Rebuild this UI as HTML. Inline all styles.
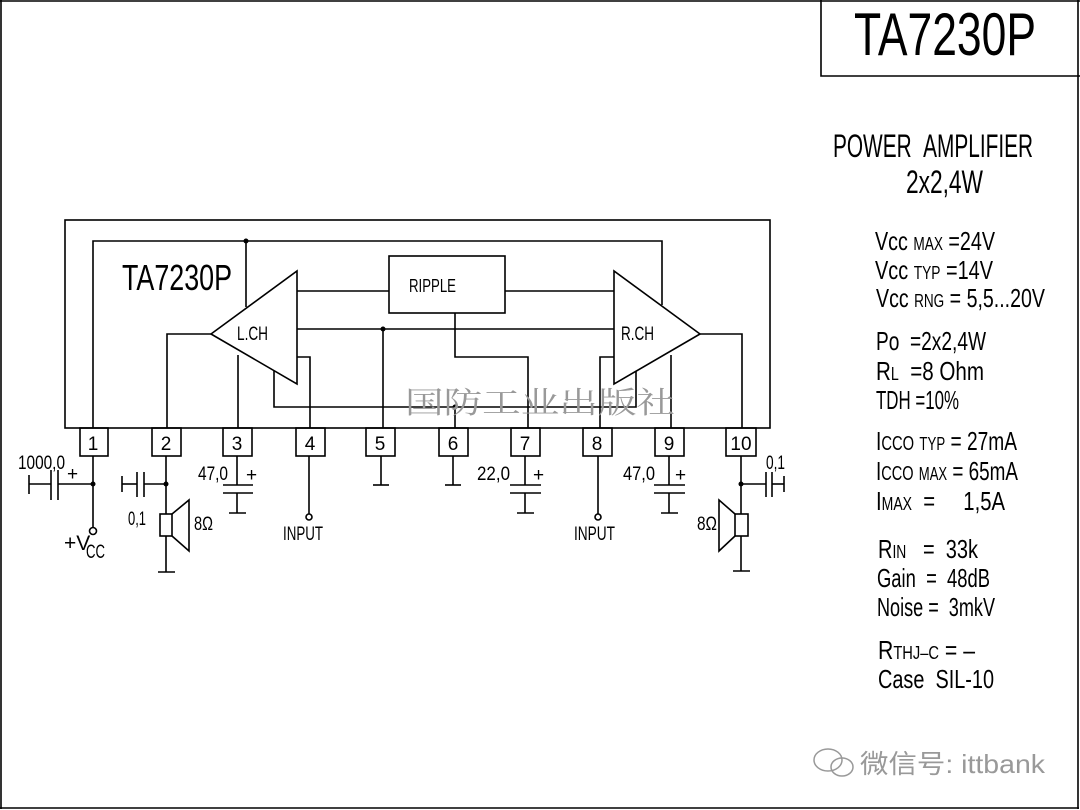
<!DOCTYPE html>
<html><head><meta charset="utf-8"><style>
html,body{margin:0;padding:0;background:#fff}
svg{display:block}
text{font-family:"Liberation Sans","Noto Sans CJK SC",sans-serif;fill:#000}
</style></head><body>
<svg width="1080" height="810" viewBox="0 0 1080 810" xmlns="http://www.w3.org/2000/svg">
<g fill="none" stroke="#000" stroke-width="1.6">
<line x1="1" y1="0" x2="1" y2="809"/>
<line x1="0" y1="808" x2="1079" y2="808"/>
<line x1="1078" y1="0" x2="1078" y2="809"/>
<line x1="0" y1="1" x2="1080" y2="1"/>
<polyline points="821,0 821,76 1080,76"/>
<rect x="65" y="220" width="705" height="208"/>
<polyline points="93,428 93,241 662,241 662,305"/>
<line x1="246" y1="241" x2="246" y2="307"/>
<polygon points="211,334 297,271 297,384"/>
<polygon points="700,334 614,271 614,384"/>
<rect x="389" y="256" width="116" height="57"/>
<line x1="297" y1="291" x2="389" y2="291"/>
<line x1="505" y1="291" x2="614" y2="291"/>
<line x1="297" y1="329" x2="614" y2="329"/>
<line x1="383" y1="329" x2="383" y2="428"/>
<polyline points="211,334 167,334 167,428"/>
<polyline points="700,334 742,334 742,428"/>
<line x1="238" y1="355" x2="238" y2="428"/>
<polyline points="297,357 310,357 310,428"/>
<polyline points="274,371 274,407 636,407 636,371"/>
<line x1="455" y1="407" x2="455" y2="428"/>
<polyline points="455,313 455,357 528,357 528,428"/>
<polyline points="614,357 600,357 600,428"/>
<line x1="671" y1="355" x2="671" y2="428"/>
<rect x="80" y="428" width="28" height="28"/>
<rect x="152" y="428" width="29" height="28"/>
<rect x="223" y="428" width="29" height="28"/>
<rect x="296" y="428" width="29" height="28"/>
<rect x="366" y="428" width="29" height="28"/>
<rect x="439" y="428" width="29" height="28"/>
<rect x="511" y="428" width="29" height="28"/>
<rect x="583" y="428" width="29" height="28"/>
<rect x="655" y="428" width="29" height="28"/>
<rect x="726" y="428" width="30" height="28"/>
<line x1="93" y1="456" x2="93" y2="527"/>
<circle cx="93" cy="531" r="3.5"/>
<line x1="93" y1="484" x2="58" y2="484"/>
<line x1="58" y1="470" x2="58" y2="500"/>
<line x1="51" y1="470" x2="51" y2="500"/>
<line x1="51" y1="484" x2="29" y2="484"/>
<line x1="29" y1="475" x2="29" y2="494"/>
<line x1="166" y1="456" x2="166" y2="572"/>
<line x1="158" y1="572" x2="175" y2="572"/>
<line x1="166" y1="484" x2="144" y2="484"/>
<line x1="144" y1="472" x2="144" y2="497"/>
<line x1="137" y1="472" x2="137" y2="497"/>
<line x1="137" y1="484" x2="122" y2="484"/>
<line x1="122" y1="476" x2="122" y2="492"/>
<rect x="160" y="514" width="12" height="22" fill="#fff"/>
<polyline points="172,514 189,500 189,551 172,536"/>
<line x1="237" y1="456" x2="237" y2="485"/>
<line x1="223" y1="485" x2="253" y2="485"/>
<line x1="223" y1="493" x2="253" y2="493"/>
<line x1="237" y1="493" x2="237" y2="513"/>
<line x1="229" y1="513" x2="246" y2="513"/>
<line x1="309" y1="456" x2="309" y2="514"/>
<circle cx="309" cy="517" r="3"/>
<line x1="381" y1="456" x2="381" y2="485"/>
<line x1="373" y1="485" x2="389" y2="485"/>
<line x1="453" y1="456" x2="453" y2="485"/>
<line x1="445" y1="485" x2="461" y2="485"/>
<line x1="525" y1="456" x2="525" y2="485"/>
<line x1="510" y1="485" x2="541" y2="485"/>
<line x1="510" y1="493" x2="541" y2="493"/>
<line x1="525" y1="493" x2="525" y2="513"/>
<line x1="517" y1="513" x2="534" y2="513"/>
<line x1="598" y1="456" x2="598" y2="514"/>
<circle cx="598" cy="517" r="3"/>
<line x1="669" y1="456" x2="669" y2="485"/>
<line x1="654" y1="485" x2="685" y2="485"/>
<line x1="654" y1="493" x2="685" y2="493"/>
<line x1="669" y1="493" x2="669" y2="513"/>
<line x1="661" y1="513" x2="678" y2="513"/>
<line x1="741" y1="456" x2="741" y2="571"/>
<line x1="733" y1="571" x2="750" y2="571"/>
<line x1="741" y1="484" x2="766" y2="484"/>
<line x1="766" y1="472" x2="766" y2="497"/>
<line x1="772" y1="472" x2="772" y2="497"/>
<line x1="772" y1="484" x2="784" y2="484"/>
<line x1="784" y1="476" x2="784" y2="492"/>
<rect x="735" y="514" width="13" height="22" fill="#fff"/>
<polyline points="735,514 719,500 719,551 735,536"/>
</g>
<g fill="#000">
<circle cx="246" cy="241" r="2.5"/><circle cx="383" cy="329" r="2.5"/><circle cx="455" cy="407" r="2.5"/>
<circle cx="93" cy="484" r="2.5"/><circle cx="166" cy="484" r="2.5"/><circle cx="741" cy="484" r="2.5"/>
</g>
<text x="405" y="413" font-size="30" textLength="270" lengthAdjust="spacingAndGlyphs" style="font-family:'Noto Serif CJK SC',serif;fill:#999">国防工业出版社</text>
<text x="122" y="290" font-size="36" textLength="110" lengthAdjust="spacingAndGlyphs">TA7230P</text>
<text x="237" y="340" font-size="19" textLength="31" lengthAdjust="spacingAndGlyphs">L.CH</text>
<text x="621" y="340" font-size="19" textLength="33" lengthAdjust="spacingAndGlyphs">R.CH</text>
<text x="409" y="292" font-size="18" textLength="47" lengthAdjust="spacingAndGlyphs">RIPPLE</text>
<g font-size="19" text-anchor="middle">
<text x="93" y="450">1</text><text x="166" y="450">2</text><text x="237" y="450">3</text><text x="310" y="450">4</text><text x="380" y="450">5</text>
<text x="453" y="450">6</text><text x="525" y="450">7</text><text x="597" y="450">8</text><text x="669" y="450">9</text><text x="741" y="450">10</text>
</g>
<g font-size="19">
<text x="18" y="469" textLength="47" lengthAdjust="spacingAndGlyphs">1000,0</text>
<text x="67" y="480">+</text>
<text x="64" y="550" font-size="21">+V</text><text x="86" y="558" textLength="19" lengthAdjust="spacingAndGlyphs">CC</text>
<text x="128" y="525" textLength="18" lengthAdjust="spacingAndGlyphs">0,1</text>
<text x="194" y="530" textLength="19" lengthAdjust="spacingAndGlyphs">8Ω</text>
<text x="198" y="480" textLength="30" lengthAdjust="spacingAndGlyphs">47,0</text>
<text x="246" y="481">+</text>
<text x="283" y="540" textLength="40" lengthAdjust="spacingAndGlyphs">INPUT</text>
<text x="477" y="480" textLength="33" lengthAdjust="spacingAndGlyphs">22,0</text>
<text x="533" y="481">+</text>
<text x="574" y="540" textLength="41" lengthAdjust="spacingAndGlyphs">INPUT</text>
<text x="623" y="480" textLength="32" lengthAdjust="spacingAndGlyphs">47,0</text>
<text x="675" y="481">+</text>
<text x="766" y="469" textLength="19" lengthAdjust="spacingAndGlyphs">0,1</text>
<text x="697" y="530" textLength="20" lengthAdjust="spacingAndGlyphs">8Ω</text>
</g>
<text x="854" y="55" font-size="60" textLength="182" lengthAdjust="spacingAndGlyphs">TA7230P</text>
<text x="833" y="157" font-size="32" textLength="200" lengthAdjust="spacingAndGlyphs">POWER&#160;&#160;AMPLIFIER</text>
<text x="906" y="193" font-size="32" textLength="77" lengthAdjust="spacingAndGlyphs">2x2,4W</text>
<g font-size="26">
<text x="875" y="250" textLength="120" lengthAdjust="spacingAndGlyphs">Vcc <tspan font-size="18">MAX</tspan> =24V</text>
<text x="875" y="279" textLength="118" lengthAdjust="spacingAndGlyphs">Vcc <tspan font-size="18">TYP</tspan> =14V</text>
<text x="876" y="307" textLength="169" lengthAdjust="spacingAndGlyphs">Vcc <tspan font-size="18">RNG</tspan> = 5,5...20V</text>
<text x="876" y="350" textLength="110" lengthAdjust="spacingAndGlyphs">Po&#160;&#160;=2x2,4W</text>
<text x="876" y="380" textLength="108" lengthAdjust="spacingAndGlyphs">R<tspan font-size="18">L</tspan>&#160;&#160;=8 Ohm</text>
<text x="876" y="409" textLength="83" lengthAdjust="spacingAndGlyphs">TDH =10%</text>
<text x="876" y="450" textLength="141" lengthAdjust="spacingAndGlyphs">I<tspan font-size="20">CCO</tspan> <tspan font-size="18">TYP</tspan> = 27mA</text>
<text x="876" y="480" textLength="142" lengthAdjust="spacingAndGlyphs">I<tspan font-size="20">CCO</tspan> <tspan font-size="18">MAX</tspan> = 65mA</text>
<text x="876" y="510" textLength="129" lengthAdjust="spacingAndGlyphs">I<tspan font-size="18">MAX</tspan>&#160;&#160;=&#160;&#160;&#160;&#160;&#160;1,5A</text>
<text x="878" y="558" textLength="100" lengthAdjust="spacingAndGlyphs">R<tspan font-size="18">IN</tspan>&#160;&#160;&#160;=&#160;&#160;33k</text>
<text x="877" y="587" textLength="113" lengthAdjust="spacingAndGlyphs">Gain&#160;&#160;=&#160;&#160;48dB</text>
<text x="877" y="616" textLength="118" lengthAdjust="spacingAndGlyphs">Noise =&#160;&#160;3mkV</text>
<text x="878" y="659" textLength="97" lengthAdjust="spacingAndGlyphs">R<tspan font-size="18">THJ–C</tspan> = –</text>
<text x="878" y="688" textLength="116" lengthAdjust="spacingAndGlyphs">Case&#160;&#160;SIL-10</text>
</g>
<g fill="none" stroke="#999" stroke-width="1.5">
<ellipse cx="828" cy="760" rx="14" ry="11"/>
<ellipse cx="842" cy="767" rx="11" ry="9"/>
</g>
<text x="860" y="773" font-size="26" textLength="185" lengthAdjust="spacingAndGlyphs" style="fill:#999">微信号: ittbank</text>
</svg>
</body></html>
